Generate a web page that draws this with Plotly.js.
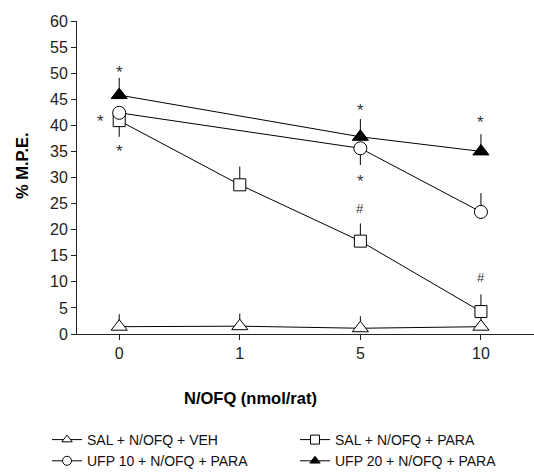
<!DOCTYPE html>
<html><head><meta charset="utf-8">
<script src="https://cdn.plot.ly/plotly-3.0.1.min.js"></script>
<style>body{margin:0;background:#fff}#chart{width:534px;height:475px}</style>
</head><body><div id="chart"></div>
<script>
var doseLabels = ['0', '1', '5', '10'];
var dosePos = [0, 1, 2, 3];
var names = ['SAL + N/OFQ + VEH', 'SAL + N/OFQ + PARA', 'UFP 10 + N/OFQ + PARA', 'UFP 20 + N/OFQ + PARA'];
var salVeh = [1.4, 1.5, 1.1, 1.4];
var salVehErrUp = [2.4, 2.4, 2.3, 2.3];
var salPara = [40.9, 28.6, 17.8, 4.3];
var salParaErrUp = [0, 3.5, 3.4, 3.3];
var salParaErrDown = [3.1, 0, 0, 0];
var ufp10 = [42.4, null, 35.6, 23.4];
var ufp10ErrUp = [0, 0, 0, 3.6];
var ufp10ErrDown = [0, 0, 3.2, 0];
var ufp20 = [45.8, null, 37.8, 35.0];
var ufp20ErrUp = [3.3, 0, 3.4, 3.3];
var sigMarks = [
  {x: 0, y: 50.2, t: '*', dx: 0}, {x: 0, y: 40.8, t: '*', dx: -19}, {x: 0, y: 34.9, t: '*', dx: 0},
  {x: 2, y: 42.9, t: '*', dx: 0}, {x: 2, y: 29.3, t: '*', dx: 0}, {x: 2, y: 24.0, t: '#', dx: 0},
  {x: 3, y: 40.6, t: '*', dx: 0}, {x: 3, y: 10.9, t: '#', dx: 0}
];

var blk = '#000';
var FONT = 'Liberation Sans, Arial, sans-serif';
function trace(y, name, sym, fill, size, errUp, errDown) {
  return {x: dosePos, y: y, name: name, type: 'scatter', mode: 'lines+markers', connectgaps: true,
    cliponaxis: false, showlegend: false,
    line: {color: blk, width: 1},
    marker: {symbol: sym, size: size, color: fill, line: {color: blk, width: 1}},
    error_y: {type: 'data', symmetric: false, array: errUp, arrayminus: errDown || [0,0,0,0], color: blk, thickness: 1, width: 0}};
}
function legendKey(name, sym, fill) {
  return {x: [null], y: [null], name: name, type: 'scatter', mode: 'lines+markers', showlegend: true,
    line: {color: blk, width: 1}, marker: {symbol: sym, size: 9, color: fill, line: {color: blk, width: 1}}};
}
var data = [
  trace(salVeh, names[0], 'triangle-up', '#fff', 14, salVehErrUp, null),
  trace(salPara, names[1], 'square', '#fff', 12, salParaErrUp, salParaErrDown),
  trace(ufp10, names[2], 'circle', '#fff', 13, ufp10ErrUp, ufp10ErrDown),
  trace(ufp20, names[3], 'triangle-up', blk, 14, ufp20ErrUp, null),
  legendKey(names[0], 'triangle-up', '#fff'),
  legendKey(names[1], 'square', '#fff'),
  legendKey(names[2], 'circle', '#fff'),
  legendKey(names[3], 'triangle-up', blk)
];
var ann = sigMarks.map(function (m) {
  return {x: m.x, y: m.y, text: m.t, showarrow: false, xshift: m.dx, xref: 'x', yref: 'y',
    font: {family: FONT, size: m.t === '*' ? 17 : 13, color: '#333'}};
});
var PL = 77, PW = 457, PT = 21, PH = 313;
ann.push({text: 'N/OFQ (nmol/rat)', xref: 'paper', yref: 'paper', x: (250 - PL) / PW, y: (PT + PH - 398) / PH,
  showarrow: false, xanchor: 'center', yanchor: 'middle', font: {family: FONT, size: 16.5, color: '#000', weight: 'bold'}});
ann.push({text: '% M.P.E.', xref: 'paper', yref: 'paper', x: (22 - PL) / PW, y: (PT + PH - 166) / PH, textangle: -90,
  showarrow: false, xanchor: 'center', yanchor: 'middle', font: {family: FONT, size: 16.5, color: '#000', weight: 'bold'}});

var layout = {
  width: 534, height: 475,
  margin: {l: PL, r: 0, t: PT, b: 141, autoexpand: false},
  paper_bgcolor: '#fff', plot_bgcolor: '#fff',
  font: {family: FONT, color: '#222', size: 16},
  xaxis: {range: [-0.35, 3.44], tickvals: dosePos, ticktext: doseLabels, showgrid: false, zeroline: false,
    showline: true, linecolor: '#222', linewidth: 1, ticks: 'outside', ticklen: 5, tickcolor: '#222',
    tickfont: {size: 16}, automargin: false},
  yaxis: {range: [0, 60], dtick: 5, showgrid: false, zeroline: false, showline: true, linecolor: '#222', linewidth: 1,
    ticks: 'outside', ticklen: 5, tickcolor: '#222', tickfont: {size: 16}, automargin: false},
  showlegend: true,
  legend: {orientation: 'h', xref: 'paper', yref: 'paper', x: (47 - PL) / PW, y: (PT + PH - 424) / PH,
    xanchor: 'left', yanchor: 'top', entrywidth: 203, entrywidthmode: 'pixels', traceorder: 'normal',
    font: {family: FONT, size: 14, color: '#111'}, tracegroupgap: 0, itemwidth: 30},
  annotations: ann
};
Plotly.newPlot('chart', data, layout, {staticPlot: true});
</script></body></html>
